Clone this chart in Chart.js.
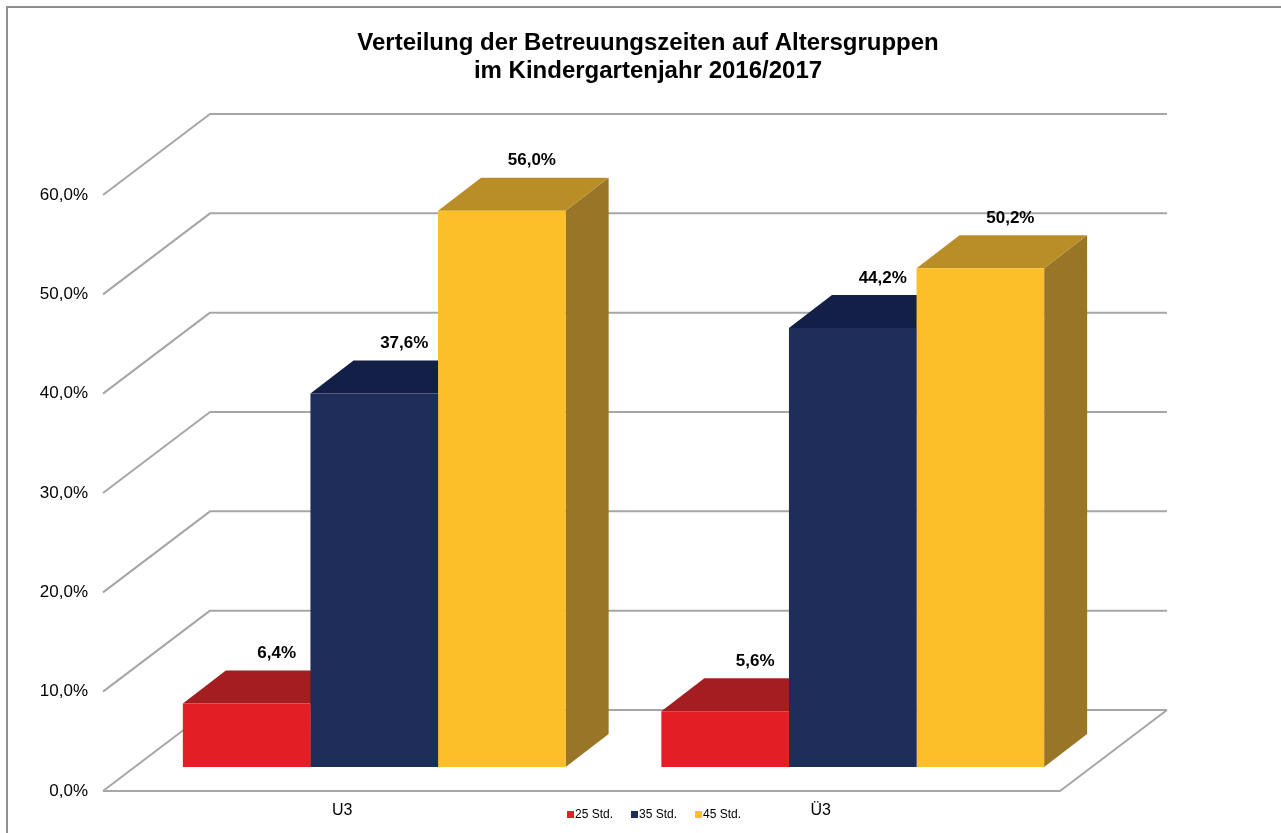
<!DOCTYPE html>
<html>
<head>
<meta charset="utf-8">
<script src="https://cdn.jsdelivr.net/npm/chart.js@4"></script>
<style>
    body { margin: 0; background: #fff; }
    canvas { display: block; }
</style>
</head>
<body>
<canvas id="chart" width="1281" height="833"></canvas>
<script>
const categories = ['U3', 'Ü3'];
const seriesNames = ['25 Std.', '35 Std.', '45 Std.'];
const values25 = [6.4, 5.6];
const values35 = [37.6, 44.2];
const values45 = [56.0, 50.2];
const titleLines = ['Verteilung der Betreuungszeiten auf Altersgruppen', 'im Kindergartenjahr 2016/2017'];

const frontColors = ['#E31E25', '#1E2D5A', '#FDBF27'];
const topColors = ['#A41D21', '#131F47', '#BA8E27'];
const sideColors = ['#7E1518', '#0F1838', '#997627'];

const FONT = '"Liberation Sans", Arial, sans-serif';

// 3d look: bar depth and floor/wall offsets relative to the bar plane
const depthX = 43, depthY = 33;
const frontX = -32, frontY = 24;
const backX = 75, backY = -57;

function pct(v) {
    return v.toFixed(1).replace('.', ',') + '%';
}

const box3d = {
    id: 'box3d',
    beforeDraw(chart) {
        const ctx = chart.ctx;
        ctx.save();
        ctx.fillStyle = '#fff';
        ctx.fillRect(0, 0, chart.width, chart.height);
        // outer frame
        ctx.strokeStyle = '#8f8f8f';
        ctx.lineWidth = 2;
        ctx.beginPath();
        ctx.moveTo(chart.width, 7);
        ctx.lineTo(7, 7);
        ctx.lineTo(7, chart.height);
        ctx.stroke();

        // title, centred on the whole 3d box rather than the bar plane
        ctx.fillStyle = '#000';
        ctx.font = 'bold 24px ' + FONT;
        ctx.textAlign = 'center';
        ctx.textBaseline = 'middle';
        titleLines.forEach((line, i) => ctx.fillText(line, 648, 43 + i * 28));
        ctx.restore();
    },
    beforeDatasetsDraw(chart) {
        const ctx = chart.ctx;
        const area = chart.chartArea;
        const y = chart.scales.y;
        ctx.save();
        ctx.strokeStyle = '#a6a6a6';
        ctx.lineWidth = 2;
        ctx.lineJoin = 'round';
        y.ticks.forEach(t => {
            const py = y.getPixelForValue(t.value);
            ctx.beginPath();
            ctx.moveTo(area.left + frontX, py + frontY);
            ctx.lineTo(area.left + backX, py + backY);
            ctx.lineTo(area.right + backX, py + backY);
            ctx.stroke();
        });
        // floor
        const p0 = y.getPixelForValue(0);
        ctx.beginPath();
        ctx.moveTo(area.left + frontX, p0 + frontY);
        ctx.lineTo(area.right + frontX, p0 + frontY);
        ctx.lineTo(area.right + backX, p0 + backY);
        ctx.stroke();

        // side and top faces, left to right
        const bars = [];
        chart.data.datasets.forEach((ds, i) => {
            chart.getDatasetMeta(i).data.forEach(el => bars.push({ el: el, i: i }));
        });
        bars.sort((a, b) => a.el.x - b.el.x);
        bars.forEach(b => {
            const el = b.el;
            const l = el.x - el.width / 2;
            const r = el.x + el.width / 2;
            ctx.fillStyle = sideColors[b.i];
            ctx.beginPath();
            ctx.moveTo(r, el.y);
            ctx.lineTo(r + depthX, el.y - depthY);
            ctx.lineTo(r + depthX, el.base - depthY);
            ctx.lineTo(r, el.base);
            ctx.closePath();
            ctx.fill();
            ctx.fillStyle = topColors[b.i];
            ctx.beginPath();
            ctx.moveTo(l, el.y);
            ctx.lineTo(r, el.y);
            ctx.lineTo(r + depthX, el.y - depthY);
            ctx.lineTo(l + depthX, el.y - depthY);
            ctx.closePath();
            ctx.fill();
        });
        ctx.restore();
    },
    afterDatasetsDraw(chart) {
        const ctx = chart.ctx;
        ctx.save();
        ctx.font = 'bold 17px ' + FONT;
        ctx.fillStyle = '#000';
        ctx.textAlign = 'center';
        ctx.textBaseline = 'middle';
        chart.data.datasets.forEach((ds, i) => {
            chart.getDatasetMeta(i).data.forEach((el, j) => {
                ctx.fillText(pct(ds.data[j]), el.x + 30, el.y - 50);
            });
        });

        // legend
        ctx.font = '12px ' + FONT;
        ctx.textAlign = 'left';
        let lx = 567;
        chart.data.datasets.forEach((ds, i) => {
            ctx.fillStyle = frontColors[i];
            ctx.fillRect(lx, 811, 7, 7);
            ctx.fillStyle = '#000';
            ctx.fillText(ds.label, lx + 8, 815);
            lx += 64;
        });
        ctx.restore();
    }
};

const datasets = [values25, values35, values45].map((vals, i) => ({
    label: seriesNames[i],
    data: vals,
    backgroundColor: frontColors[i],
    borderWidth: 0,
    categoryPercentage: 0.8,
    barPercentage: 1.0
}));

const ctx = document.getElementById('chart').getContext('2d');
const myChart = new Chart(ctx, {
    type: 'bar',
    data: {
        labels: categories,
        datasets: datasets
    },
    options: {
        responsive: false,
        animation: false,
        layout: {
            padding: { left: 0, right: 189, top: 171, bottom: 0 }
        },
        plugins: {
            legend: { display: false },
            tooltip: { enabled: false },
            title: { display: false }
        },
        scales: {
            x: {
                grid: { display: false, drawTicks: false },
                border: { display: false },
                ticks: {
                    color: '#000',
                    font: { family: FONT, size: 16 },
                    padding: 34,
                    labelOffset: frontX
                },
                afterFit: s => { s.height = 66; }
            },
            y: {
                min: 0,
                max: 60,
                grid: { display: false, drawTicks: false },
                border: { display: false },
                ticks: {
                    stepSize: 10,
                    color: '#000',
                    font: { family: FONT, size: 17 },
                    padding: 47,
                    labelOffset: frontY,
                    callback: v => pct(v)
                },
                afterFit: s => { s.width = 135; }
            }
        }
    },
    plugins: [box3d]
});
</script>
</body>
</html>
